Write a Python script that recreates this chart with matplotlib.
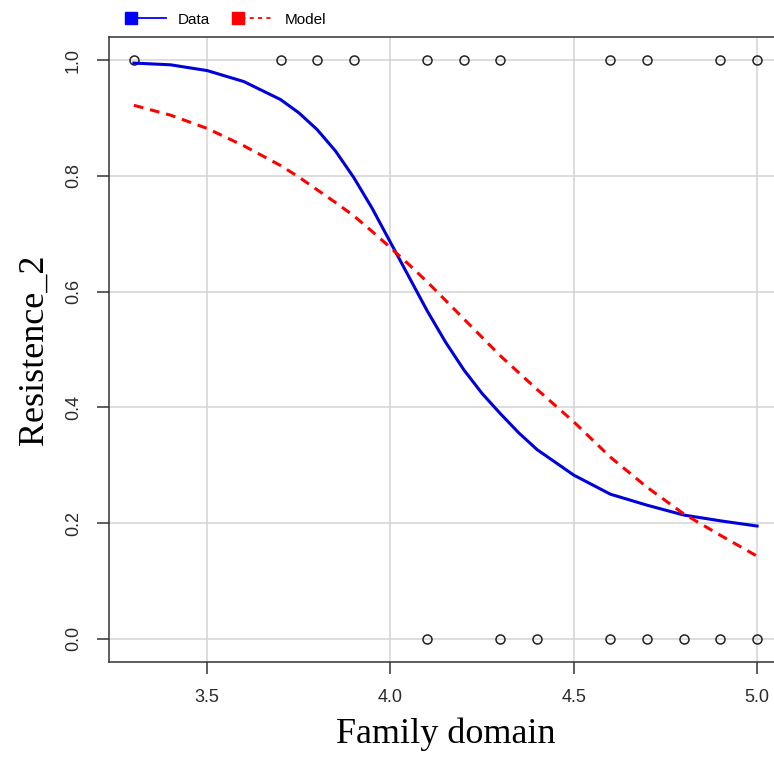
import matplotlib
matplotlib.use("Agg")
import matplotlib.pyplot as plt
from matplotlib.lines import Line2D
from matplotlib.legend_handler import HandlerLine2D

plt.rcParams['lines.scale_dashes'] = False

# observed points (0/1 outcome)
x_one = [3.3, 3.7, 3.8, 3.9, 4.1, 4.2, 4.3, 4.6, 4.7, 4.9, 5.0]
x_zero = [4.1, 4.3, 4.4, 4.6, 4.7, 4.8, 4.9, 5.0]

# fitted curves
curve_x = [3.30, 3.40, 3.50, 3.60, 3.70, 3.75, 3.80, 3.85, 3.90, 3.95, 4.00,
           4.05, 4.10, 4.15, 4.20, 4.25, 4.30, 4.35, 4.40, 4.50, 4.60, 4.70,
           4.80, 4.90, 5.00]
data_y = [0.995, 0.992, 0.982, 0.963, 0.932, 0.909, 0.880, 0.843, 0.797,
          0.744, 0.685, 0.626, 0.567, 0.513, 0.465, 0.424, 0.389, 0.356,
          0.327, 0.283, 0.250, 0.231, 0.214, 0.204, 0.195]
model_y = [0.922, 0.905, 0.882, 0.852, 0.818, 0.798, 0.776, 0.754, 0.731,
           0.704, 0.676, 0.647, 0.617, 0.585, 0.553, 0.521, 0.489, 0.460,
           0.431, 0.375, 0.314, 0.262, 0.216, 0.179, 0.143]

xticks = [3.5, 4.0, 4.5, 5.0]
yticks = [0.0, 0.2, 0.4, 0.6, 0.8, 1.0]


# legend key with the square sitting at the left end of the line
class LeftMarkerHandler(HandlerLine2D):
    def create_artists(self, legend, orig_handle, xdescent, ydescent,
                       width, height, fontsize, trans):
        artists = super().create_artists(legend, orig_handle, xdescent,
                                         ydescent, width, height,
                                         fontsize, trans)
        line = artists[0]
        xs = line.get_xdata()
        ys = line.get_ydata()
        x0, x1 = xs[0], xs[-1]
        line.set_data([x0, x0 + 0.13 * width, x1], [ys[0]] * 3)
        line.set_markevery([1])
        return artists


fig = plt.figure(figsize=(7.74, 7.62), dpi=100)
ax = fig.add_axes([0.1408, 0.1312, 0.8695, 0.8202])

ax.set_xlim(3.232, 5.068)
ax.set_ylim(-0.04, 1.04)
ax.set_xticks(xticks)
ax.set_xticklabels(['%.1f' % v for v in xticks])
ax.set_yticks(yticks)
ax.set_yticklabels(['%.1f' % v for v in yticks], rotation=90, va='center')
ax.grid(True, color='#d3d3d3', linewidth=1.1)
ax.set_axisbelow(True)

ax.tick_params(direction='out', length=8.5, width=1.1, color='#333333',
               labelcolor='#2a2a2a', labelsize=13, pad=11)
for lbl in ax.get_xticklabels() + ax.get_yticklabels():
    lbl.set_family('Liberation Sans')
for s in ['left', 'top', 'bottom']:
    ax.spines[s].set_color('#333333')
    ax.spines[s].set_linewidth(1.1)
ax.spines['right'].set_visible(False)

ax.plot(x_one, [1] * len(x_one), 'o', mfc='none', mec='#222222', ms=6.5, mew=1.1)
ax.plot(x_zero, [0] * len(x_zero), 'o', mfc='none', mec='#222222', ms=6.5, mew=1.1)
ax.plot(curve_x, data_y, color='#0000dd', lw=2.2)
ax.plot(curve_x, model_y, color='#ff0000', lw=2.2, dashes=(7, 5))

ax.set_xlabel('Family domain', family='Liberation Serif', fontsize=26, labelpad=8)
ax.set_ylabel('Resistence_2', family='Liberation Serif', fontsize=26, labelpad=10)

handles = [
    Line2D([], [], color='#0000ff', lw=1.3, marker='s', ms=8),
    Line2D([], [], color='#ff0000', lw=1.3, ls=(0, (3, 3)), marker='s', ms=8),
]
fig.legend(handles, ['Data', 'Model'], loc='center left',
           bbox_to_anchor=(0.145, 0.974), ncol=2, frameon=False, numpoints=1,
           handlelength=2.6, handletextpad=0.8, columnspacing=1.5,
           handler_map={Line2D: LeftMarkerHandler()},
           prop={'family': 'Liberation Sans', 'size': 11})

fig.savefig('out.png', dpi=100)
